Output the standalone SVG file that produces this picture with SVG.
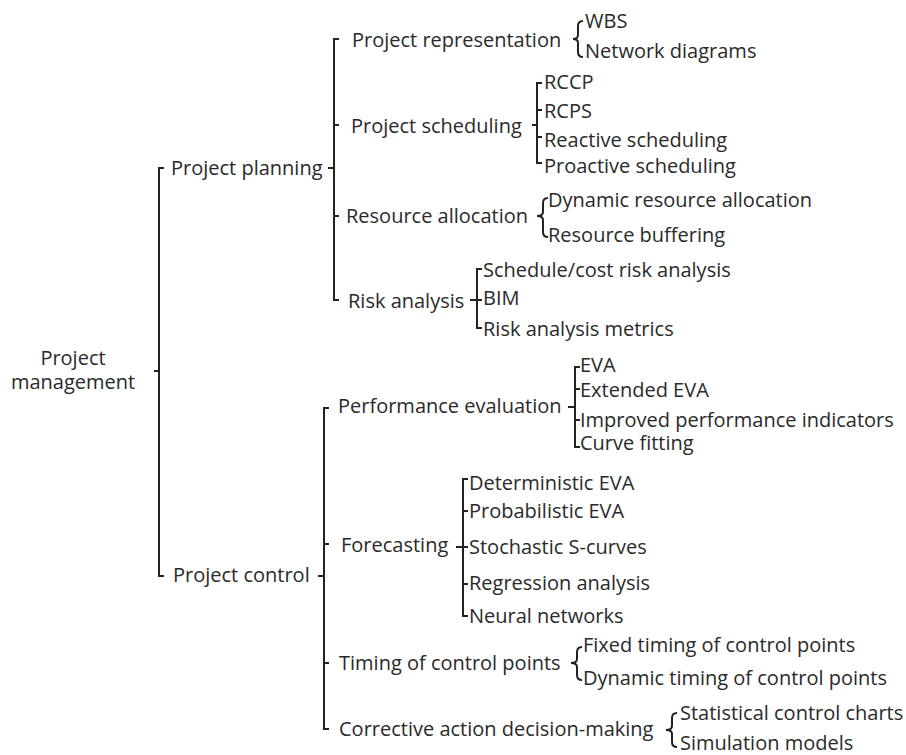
<svg xmlns="http://www.w3.org/2000/svg" width="906" height="755" viewBox="0 0 906 755">
<style>
text{font-family:"Open Sans","Liberation Sans",sans-serif;font-size:20px;fill:#2a2a2a}
.c path,.c line{fill:none;stroke:#222;stroke-width:2;stroke-linecap:butt;stroke-linejoin:miter}
</style>
<rect width="906" height="755" fill="#fff"/>
<g class="c" id="connectors">
<!-- root -->
<line x1="154" y1="371" x2="159" y2="371"/>
<path d="M164,168 H159 V576 H164"/>
<!-- planning -->
<line x1="328" y1="168" x2="334" y2="168"/>
<path d="M339,39 H334 V300 H339"/>
<line x1="334" y1="125" x2="339" y2="125"/>
<line x1="334" y1="216" x2="339" y2="216"/>
<!-- control -->
<line x1="318" y1="576" x2="324" y2="576"/>
<path d="M329,408 H324 V729 H329"/>
<line x1="324" y1="544" x2="329" y2="544"/>
<line x1="324" y1="663" x2="329" y2="663"/>
<!-- representation brace -->
<path d="M583,21 Q578,21 578,26 V35 Q578,39 573,39 Q578,39 578,43 V52 Q578,57 583,57"/>
<!-- scheduling -->
<line x1="532" y1="125" x2="537" y2="125"/>
<path d="M542,83 H537 V163 H542"/>
<line x1="537" y1="110" x2="542" y2="110"/>
<line x1="537" y1="137" x2="542" y2="137"/>
<!-- resource brace -->
<path d="M548,198 Q543,198 543,203 V212 Q543,216 537,216 Q543,216 543,220 V232 Q543,237 548,237"/>
<!-- risk -->
<line x1="470" y1="300" x2="477" y2="300"/>
<path d="M482,269 H477 V328 H482"/>
<line x1="477" y1="300" x2="482" y2="300"/>
<!-- performance -->
<line x1="568" y1="407" x2="575" y2="407"/>
<path d="M580,367 H575 V447 H580"/>
<line x1="575" y1="389" x2="580" y2="389"/>
<line x1="575" y1="420" x2="580" y2="420"/>
<!-- forecasting -->
<line x1="456" y1="547" x2="463" y2="547"/>
<path d="M468,479 H463 V616 H468"/>
<line x1="463" y1="511" x2="468" y2="511"/>
<line x1="463" y1="547" x2="468" y2="547"/>
<line x1="463" y1="584" x2="468" y2="584"/>
<!-- timing brace -->
<path d="M582,647 Q577,647 577,652 V659 Q577,663 571,663 Q577,663 577,667 V675 Q577,680 582,680"/>
<!-- corrective brace -->
<path d="M677,713 Q672,713 672,718 V726 Q672,730 666,730 Q672,730 672,734 V742 Q672,747 677,747"/>
</g>
<g id="root"><text x="73" y="365" text-anchor="middle">Project</text><text x="73" y="389" text-anchor="middle">management</text></g>
<g id="planning"><text x="171" y="175">Project planning</text></g>
<g id="control"><text x="173" y="582">Project control</text></g>
<g id="representation"><text x="352" y="47">Project representation</text></g>
<g id="scheduling"><text x="351" y="133">Project scheduling</text></g>
<g id="resource"><text x="346" y="223">Resource allocation</text></g>
<g id="risk"><text x="348" y="308">Risk analysis</text></g>
<g id="performance"><text x="338" y="413">Performance evaluation</text></g>
<g id="forecasting"><text x="341" y="552">Forecasting</text></g>
<g id="timing"><text x="339" y="670">Timing of control points</text></g>
<g id="corrective"><text x="339" y="736">Corrective action decision-making</text></g>
<g id="wbs"><text x="585" y="28">WBS</text></g>
<g id="network"><text x="585" y="58">Network diagrams</text></g>
<g id="rccp"><text x="544" y="89">RCCP</text></g>
<g id="rcps"><text x="544" y="118">RCPS</text></g>
<g id="reactive"><text x="544" y="147">Reactive scheduling</text></g>
<g id="proactive"><text x="544" y="173">Proactive scheduling</text></g>
<g id="dynres"><text x="548" y="207">Dynamic resource allocation</text></g>
<g id="buffering"><text x="548" y="242">Resource buffering</text></g>
<g id="schedcost"><text x="483" y="277">Schedule/cost risk analysis</text></g>
<g id="bim"><text x="483" y="305">BIM</text></g>
<g id="riskmetrics"><text x="483" y="336">Risk analysis metrics</text></g>
<g id="eva"><text x="580" y="372">EVA</text></g>
<g id="exteva"><text x="580" y="397">Extended EVA</text></g>
<g id="improved"><text x="580" y="427">Improved performance indicators</text></g>
<g id="curve"><text x="580" y="450">Curve fitting</text></g>
<g id="deteva"><text x="469" y="490">Deterministic EVA</text></g>
<g id="probeva"><text x="469" y="518">Probabilistic EVA</text></g>
<g id="stoch"><text x="469" y="554">Stochastic S-curves</text></g>
<g id="regression"><text x="469" y="590">Regression analysis</text></g>
<g id="neural"><text x="469" y="623">Neural networks</text></g>
<g id="fixed"><text x="583" y="652">Fixed timing of control points</text></g>
<g id="dyntiming"><text x="583" y="685">Dynamic timing of control points</text></g>
<g id="spc"><text x="680" y="720">Statistical control charts</text></g>
<g id="simulation"><text x="680" y="750">Simulation models</text></g>
</svg>
